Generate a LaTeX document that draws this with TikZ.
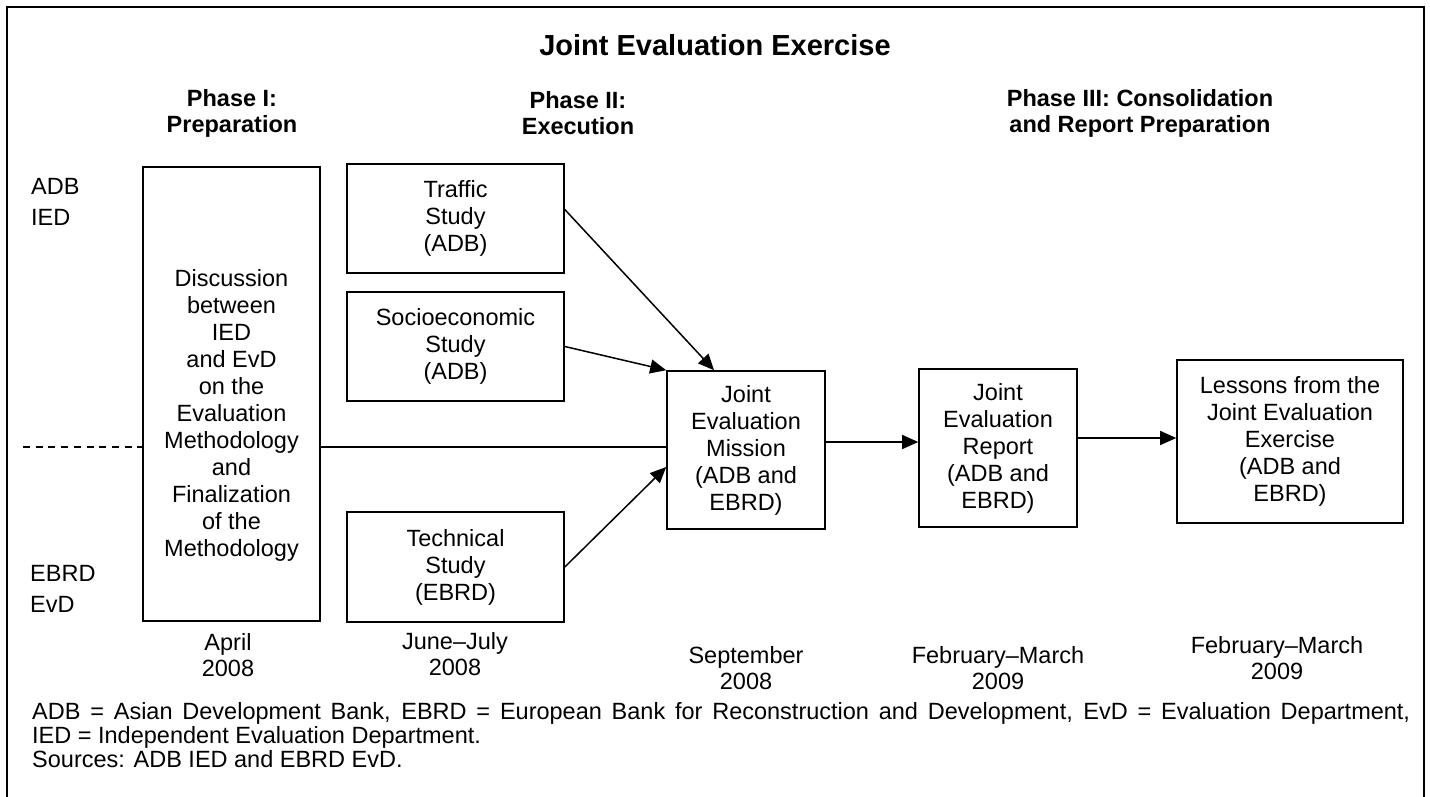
\documentclass[tikz,border=0pt]{standalone}
\usepackage{fontspec}
\setmainfont{Liberation Sans}
\usetikzlibrary{arrows.meta,calc}

\tikzset{
  box/.style={draw, line width=1.6pt, align=center, inner sep=0pt, font=\fontsize{23.5}{27}\selectfont},
  head/.style={align=center, inner sep=0pt, font=\bfseries\fontsize{23.5}{26}\selectfont},
  side/.style={align=left, inner sep=0pt, anchor=north west, font=\fontsize{23.5}{31}\selectfont},
  when/.style={align=center, inner sep=0pt, font=\fontsize{23.5}{26}\selectfont},
  note/.style={text width=1378pt, align=justify, inner sep=0pt, anchor=north west, font=\fontsize{23.5}{24}\selectfont},
  link/.style={line width=1.5pt, -{Triangle[length=16pt,width=14pt]}}
}

\begin{document}
\begin{tikzpicture}[x=1pt,y=-1pt]
\useasboundingbox (0,0) rectangle (1430,797);
\draw[line width=2pt] (7,800) -- (7,7) -- (1424,7) -- (1424,800);

\node[font=\bfseries\fontsize{29}{34}\selectfont] (title) at (715,45) {Joint Evaluation Exercise};
\node[head] (ph1) at (232,113) {Phase I:\\Preparation};
\node[head] (ph2) at (578,113) {Phase II:\\Execution};
\node[head] (ph3) at (1140,113) {Phase III: Consolidation\\and Report Preparation};

\node[side] (adb) at (31,178) {ADB\\IED};
\node[side] (ebrd) at (30,565) {EBRD\\EvD};

\node[box, minimum width=177, minimum height=454] (prep) at (231.5,394) {};
\node[box, draw=none] (preptxt) at (231.5,415) {Discussion\\between\\IED\\and EvD\\on the\\Evaluation\\Methodology\\and\\Finalization\\of the\\Methodology};
\node[box, minimum width=217, minimum height=109] (traffic) at (455.5,218.5) {Traffic\\Study\\(ADB)};
\node[box, minimum width=217, minimum height=109] (socio) at (455.5,346.5) {Socioeconomic\\Study\\(ADB)};
\node[box, minimum width=217, minimum height=110] (tech) at (455.5,567) {Technical\\Study\\(EBRD)};
\node[box, minimum width=158, minimum height=158] (mission) at (746,450) {Joint\\Evaluation\\Mission\\(ADB and\\EBRD)};
\node[box, minimum width=158, minimum height=158] (report) at (998,448) {Joint\\Evaluation\\Report\\(ADB and\\EBRD)};
\node[box, minimum width=226, minimum height=163] (lessons) at (1290,441.5) {Lessons from the\\Joint Evaluation\\Exercise\\(ADB and\\EBRD)};

\coordinate (split) at (23,447);
\draw[line width=1.5pt, dash pattern=on 7pt off 5.7pt] (split) -- (split -| prep.west);
\draw[line width=1.5pt] (split -| prep.east) -- (split -| mission.west);
\draw[link] ($(traffic.east)+(0,-9)$) -- ($(mission.north west)!0.3!(mission.north east)$);
\draw[link] (socio.east) -- (mission.north west);
\draw[link] (tech.east) -- ($(mission.west)+(0,17)$);
\draw[link] ($(mission.east)+(0,-8)$) -- ($(report.west)+(0,-6)$);
\draw[link] ($(report.east)+(0,-10)$) -- ($(lessons.west)+(0,-3.5)$);

\node[when] (d1) at (228,655) {April\\2008};
\node[when] (d2) at (455,654) {June–July\\2008};
\node[when] (d3) at (746,668) {September\\2008};
\node[when] (d4) at (998,668) {February–March\\2009};
\node[when] (d5) at (1277,658) {February–March\\2009};

\node[note] (legend) at (32,702) {ADB = Asian Development Bank, EBRD = European Bank for Reconstruction and Development, EvD = Evaluation Department,\linebreak IED = Independent Evaluation Department.\\Sources: ADB IED and EBRD EvD.};
\end{tikzpicture}
\end{document}
